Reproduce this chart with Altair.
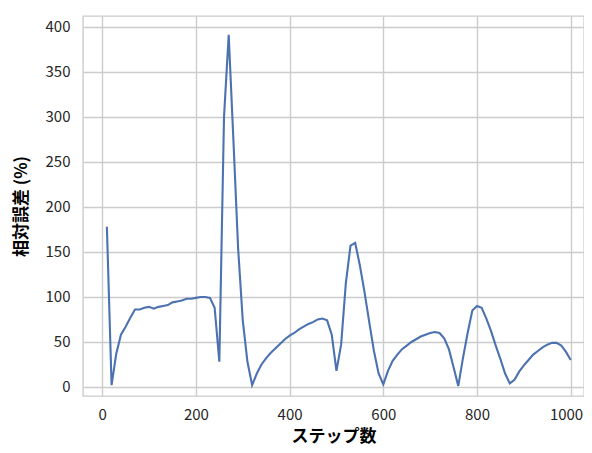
import altair as alt
import pandas as pd

steps = list(range(10, 1001, 10))
errors = [
    178, 2, 37, 58, 67, 77, 86, 86, 88, 89,
    87, 89, 90, 91, 94, 95, 96, 98, 98, 99,
    100, 100, 99, 88, 28, 300, 391, 275, 155, 74,
    28, 2, 15, 25, 32, 38, 43, 48, 53, 57,
    60, 64, 67, 70, 72, 75, 76, 74, 58, 18,
    47, 115, 157, 160, 135, 105, 72, 40, 15, 3,
    18, 29, 36, 42, 46, 50, 53, 56, 58, 60,
    61, 60, 54, 42, 22, 1, 32, 60, 85, 90,
    88, 76, 62, 46, 31, 15, 4, 8, 17, 24,
    30, 36, 40, 44, 47, 49, 49, 46, 39, 30,
]
x_ticks = [0, 200, 400, 600, 800, 1000]
y_ticks = [0, 50, 100, 150, 200, 250, 300, 350, 400]

df = pd.DataFrame({"step": steps, "err": errors})

FONT = "Noto Sans CJK JP"

chart = (
    alt.Chart(df)
    .mark_line(color="#4c72b0", strokeWidth=2.1, clip=True)
    .encode(
        x=alt.X(
            "step:Q",
            title="ステップ数",
            scale=alt.Scale(domain=[-41, 1028.4], nice=False, zero=False),
            axis=alt.Axis(
                values=x_ticks,
                format="d",
                labelPadding=11,
                titlePadding=6,
                labelFlush=15,
                labelFlushOffset=12,
            ),
        ),
        y=alt.Y(
            "err:Q",
            title="相対誤差 (%)",
            scale=alt.Scale(domain=[-10, 412], nice=False, zero=False),
            axis=alt.Axis(values=y_ticks, labelPadding=13, titlePadding=15),
        ),
    )
    .properties(
        width=501,
        height=380,
        autosize=alt.AutoSizeParams(type="none"),
        padding={"left": 75, "top": 8, "right": 0, "bottom": 49},
    )
    .configure_view(stroke="#cccccc", strokeWidth=1.4)
    .configure_axis(
        grid=True,
        gridColor="#cccccc",
        gridWidth=1.4,
        domain=False,
        ticks=False,
        labelFont=FONT,
        labelFontSize=15,
        labelColor="#262626",
        titleFont=FONT,
        titleFontSize=17,
        titleFontWeight=600,
        titleColor="#000000",
    )
)

chart.save("out.html", embed_options={"renderer": "svg", "actions": False})
